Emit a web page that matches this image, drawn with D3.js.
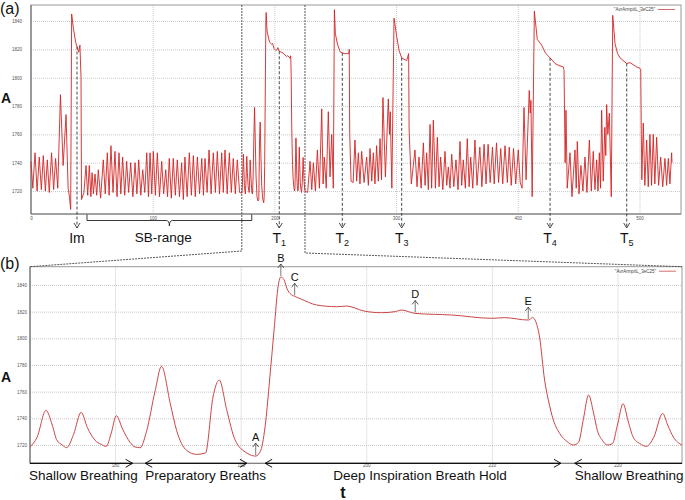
<!DOCTYPE html>
<html>
<head>
<meta charset="utf-8">
<script src="https://cdnjs.cloudflare.com/ajax/libs/d3/7.8.5/d3.min.js"></script>
<style>
body { margin: 0; background: #fff; }
svg { font-family: "Liberation Sans", Arial, sans-serif; }
.grid line { stroke: #c9c9c9; stroke-dasharray: 1,1; }
.grid path { display: none; }
.ticks text { font-size: 4.5px; fill: #555; }
.ticks path, .ticks line { display: none; }
</style>
</head>
<body>
<div id="chart"></div>
<script>
// panel (a) trace, [t, A]
var overviewLeft = [
  [0,1741],[1.5,1722],[3.3,1747],[5,1720],[6.8,1744],[8.5,1721],[10.1,1745],[11.8,1720],
  [13.4,1742],[15,1719],[16.9,1747],[18.6,1721],[20.2,1743],[22,1722],[24.2,1788],[26.4,1738],
  [28.8,1774],[30.5,1722],[31.6,1716],[32.6,1707],[33.4,1845],[34.8,1835],[36.7,1825],[37.8,1822],
  [39.2,1818],[40.2,1823],[41.1,1800],[41.5,1714],
  [43.5,1719],[45.2,1738],[46.6,1717],[47.9,1738],[49.2,1716],[50.2,1733],[51.3,1718],[52.6,1732],
  [54,1717],[55.3,1735],[57.2,1715],[59.4,1742],[61,1718],[62.7,1747],[64.2,1717],[65.7,1752],
  [67.4,1719],[69,1748],[70.7,1716],[72.3,1747],[73.8,1718],[75.3,1744],[77,1717],[78.6,1741],
  [80.2,1719],[81.9,1740],[83.7,1716],[85.5,1740],[87,1718],[88.5,1742],[90.2,1717],[91.8,1735],
  [93.5,1719],[95.1,1747],[96.5,1716],[97.8,1747],[99.2,1718],[100.5,1748],[102.2,1717],[103.8,1747],
  [105.6,1716],[107.4,1741],[109,1718],[110.7,1735],[112.2,1716],[113.6,1743],[115.3,1715],[116.9,1743],
  [118.6,1717],[120.2,1742],[122,1716],[123.8,1740],[125.2,1714],[126.5,1744],[128.3,1716],[130.1,1747],
  [131.8,1717],[133.4,1745],[135,1716],[136.7,1744],[138.5,1718],[140.3,1743],[141.7,1717],[143,1743],
  [144.7,1719],[146.3,1749],[148,1718],[149.8,1747],[151.5,1719],[153.1,1748],[154.9,1718],[156.7,1747],
  [158,1719],[159.4,1749],[161.2,1718],[163,1747],[164.6,1719],[166.2,1743],[167.9,1718],[169.5,1742],
  [171.4,1719]
];

// panel (b) trace, the zoomed stretch of the same recording
var detailCurve = [
  [173.23,1718.5],[173.8,1726],[174.5,1746],[175,1735],[175.35,1724],[175.8,1720],[176.15,1718],
  [176.7,1728],[177.3,1744.5],[177.8,1733],[178.4,1723.7],[178.9,1720.5],[179.3,1719],[179.7,1729],
  [180.1,1742],[180.6,1732],[181.2,1722],[181.6,1718.5],[182,1718],[182.5,1730],[183.2,1761],
  [183.7,1779],[184.4,1751],[184.9,1731],[185.7,1716],[186.5,1713],[187.2,1714],[187.8,1756],
  [188.3,1768.7],[188.9,1746],[189.55,1724],[190.5,1714],[191.2,1711.7],[191.6,1716],[192,1738],
  [192.3,1768],[192.66,1806],[193,1840],[193.2,1846],[193.45,1844],[193.7,1837],[194,1833],
  [194.3,1831.5],[194.8,1829.5],[196.05,1825],[197.65,1823.7],[198.45,1824.2],[199.8,1820.5],
  [201.2,1819.2],[202.3,1820],[202.8,1821.2],[203.9,1818.7],[206.8,1817.5],[210,1815],[211,1815.5],
  [212.9,1813.7],[213.25,1815.5],[213.5,1812.5],[213.8,1801],[214.2,1768.7],[214.5,1753.7],
  [214.9,1738.7],[215.4,1728.7],[216,1722.5],[216.5,1720],[216.9,1722],[217.3,1740],[217.7,1757.5],
  [218.1,1744],[218.4,1731],[218.8,1723.5],[219.2,1720],[219.6,1721],[220,1735],[220.45,1751],
  [220.85,1738],[221.25,1726],[221.8,1721],[222.3,1719],[222.9,1726],[223.6,1743.7],[224,1735],
  [224.45,1726],[225.14,1720]
];

var overviewRight = [
  [227.3,1719],[229.3,1741],[230.7,1721],[232,1740],[233.7,1720],[235.3,1749],[237,1722],[238.9,1778],
  [240,1725],[241,1744],[242.6,1722],[244.3,1776],[245.7,1730],[247.1,1760],[248.4,1722],[249.3,1848],
  [250.1,1831],[252,1823],[254.2,1818],[257.5,1817],[261.2,1817],[261.5,1820],[261.9,1760],[263,1727],
  [264.7,1726],[266.2,1756],[267.6,1727],[269,1747],[270.3,1725],[271.7,1748],[273.7,1726],[275.8,1744],
  [277.2,1724],[278.6,1750],[280,1727],[281.3,1747],[282.6,1725],[284,1752],[285.4,1727],[286.8,1757],
  [288,1728],[289.2,1786],[291.2,1730],[293.6,1785],[294.6,1760],[295.2,1776],[296.5,1722],[298.3,1842],
  [300.5,1829],[302.5,1819],[304.6,1814],[308.7,1812],[310.3,1817],[310.7,1763],[312.5,1725],[315.5,1749],
  [317.2,1723],[318.8,1744],[320.6,1722],[322.4,1754],[323.8,1724],[325.1,1747],[326.5,1721],[327.9,1767],
  [329.2,1722],[330.6,1770],[332.3,1722],[333.9,1758],[335.3,1723],[336.6,1744],[338.4,1721],[340.2,1748],
  [341.6,1724],[342.9,1737],[344.3,1722],[345.7,1746],[347.4,1723],[349.2,1742],[350.9,1721],[352.5,1755],
  [353.9,1724],[355.2,1742],[356.9,1722],[358.5,1757],[360,1723],[361.3,1744],[363,1722],[364.8,1756],
  [366.5,1724],[368.8,1751],[370.5,1723],[372.3,1753],[373.9,1725],[375.6,1753],[377.3,1726],[379.2,1751],
  [380.6,1725],[382.5,1754],[384.2,1726],[386,1750],[387.6,1725],[389.5,1752],[391.4,1726],[393,1751],
  [394.6,1724],[396.5,1750],[398.3,1725],[400.4,1749],[402,1726],[403.5,1722],[405.1,1779],[406.8,1728],
  [409.4,1791],[410.2,1775],[410.8,1784],[411.8,1716],[413.6,1847],[416,1827],[419.6,1823],[423,1817],
  [426.5,1814],[430.6,1810],[434,1808.5],[437.4,1807.6],[438,1805],[438.9,1740],[439.6,1777],[440.6,1722],
  [442.9,1747],[444.5,1716],[447,1749],[448,1722],[448.9,1755],[450.3,1718],[451.9,1738],[453.5,1720],
  [455.2,1744],[456.8,1719],[458.8,1756],[460.4,1720],[462,1748],[463.4,1721],[464.8,1742],[465.9,1720],
  [467,1747],[468,1722],[468.9,1777],[470.2,1727],[471.5,1765],[472.3,1745],[473,1781],[474,1760],
  [475.2,1775],[476.8,1716],[478,1844],[479.9,1824],[482,1817],[484,1814],[489.5,1810],[492.2,1810.6],
  [497.7,1807.6],[500.4,1806.6],[501,1806],[501.5,1760],[501.9,1728],[503.1,1768],[504.4,1724],[505.9,1756],
  [507.2,1723],[508.6,1760],[509.9,1724],[511.3,1760],[512.6,1725],[514.1,1758],[515.7,1724],[517.4,1744],
  [519.1,1723],[520.9,1743],[522.3,1724],[523.7,1743],[525,1725],[526.4,1747],[526.7,1740]
];

var yTicks = [1720, 1740, 1760, 1780, 1800, 1820, 1840];
var overviewXTicks = [0, 100, 200, 300, 400, 500];
var detailXTicks = [180, 190, 200, 210, 220];

var markerNames = ["Im", "T", "T", "T", "T", "T"];
var markerSubs = ["", "1", "2", "3", "4", "5"];
var markerT = [37.8, 204, 255.8, 304.6, 426.5, 489.5];
var sbRange = [46, 181.4];

var pointNames = ["A", "B", "C", "D", "E"];
var pointT = [191.2, 193.2, 194.3, 203.9, 212.9];

var phaseNames = ["Shallow Breathing", "Preparatory Breaths", "Deep Inspiration Breath Hold", "Shallow Breathing"];
var phaseStart = [173.23, 182.4, 191.95, 216.6];
var phaseEnd = [181.4, 190.5, 215.5, 225.14];

var legendName = '"AvrArmpitL_3eC25"';

var svg = d3.select("#chart").append("svg").attr("width", 685).attr("height", 500);

var xA = d3.scaleLinear().domain([0, 534.1]).range([31, 681]);
var yA = d3.scaleLinear().domain([1703.8, 1851.3]).range([214, 5]);
var xB = d3.scaleLinear().domain([173.23, 225.14]).range([30, 682]);
var yB = d3.scaleLinear().domain([1706.3, 1853.7]).range([463.3, 266.7]);

var fullTrace = overviewLeft.concat(detailCurve, overviewRight);

function valueAt(pts, t) {
  var i = d3.bisector(d => d[0]).left(pts, t);
  if (i <= 0) return pts[0][1];
  if (i >= pts.length) return pts[pts.length - 1][1];
  var a = pts[i - 1], b = pts[i];
  return a[1] + (b[1] - a[1]) * (t - a[0]) / (b[0] - a[0]);
}

function drawPanel(x, y, xTicks, yPad, xPad) {
  var g = svg.append("g");
  var x0 = x.range()[0], x1 = x.range()[1], y0 = y.range()[0], y1 = y.range()[1];

  g.append("g").attr("class", "grid")
    .attr("transform", `translate(${x0},0)`)
    .call(d3.axisLeft(y).tickValues(yTicks).tickSize(-(x1 - x0)).tickFormat(""));
  g.append("g").attr("class", "grid")
    .attr("transform", `translate(0,${y0})`)
    .call(d3.axisBottom(x).tickValues(xTicks.filter(d => x(d) > x0 + 2)).tickSize(-(y0 - y1)).tickFormat(""));

  g.append("g").attr("class", "ticks")
    .attr("transform", `translate(${x0},0)`)
    .call(d3.axisLeft(y).tickValues(yTicks).tickSize(0).tickPadding(yPad).tickFormat(d3.format("d")));
  g.append("g").attr("class", "ticks")
    .attr("transform", `translate(0,${y0})`)
    .call(d3.axisBottom(x).tickValues(xTicks).tickSize(0).tickPadding(xPad).tickFormat(d3.format("d")));

  g.append("rect")
    .attr("x", x0).attr("y", y1)
    .attr("width", x1 - x0).attr("height", y0 - y1)
    .attr("fill", "none").attr("stroke", "#9a9a9a").attr("stroke-width", 1);
  g.append("line").attr("x1", x0).attr("x2", x0).attr("y1", y1).attr("y2", y0)
    .attr("stroke", "#666");
  g.append("line").attr("x1", x0).attr("x2", x1).attr("y1", y0).attr("y2", y0)
    .attr("stroke", "#777");

  // legend
  g.append("text")
    .attr("x", x1 - 26).attr("y", y1 + 6)
    .attr("text-anchor", "end")
    .attr("font-size", "4.5px").attr("fill", "#444")
    .text(legendName);
  g.append("line")
    .attr("x1", x1 - 23).attr("x2", x1 - 6)
    .attr("y1", y1 + 4.5).attr("y2", y1 + 4.5)
    .attr("stroke", "#d96a6a").attr("stroke-width", 1);
  return g;
}

drawPanel(xA, yA, overviewXTicks, 9, 2.5);
drawPanel(xB, yB, detailXTicks, 3, 1);

// traces
svg.append("path")
  .datum(fullTrace)
  .attr("fill", "none")
  .attr("stroke", "#d42424")
  .attr("stroke-width", 0.9)
  .attr("stroke-linejoin", "round")
  .attr("d", d3.line().x(d => xA(d[0])).y(d => yA(d[1])));

svg.append("path")
  .datum(detailCurve)
  .attr("fill", "none")
  .attr("stroke", "#cc4646")
  .attr("stroke-width", 1)
  .attr("d", d3.line().curve(d3.curveMonotoneX).x(d => xB(d[0])).y(d => yB(d[1])));

// zoom connectors
var cL = xA(xB.domain()[0]), cR = xA(xB.domain()[1]);
svg.append("path")
  .attr("d", `M${cL},5 L${cL},251 L${xB.range()[0]},${yB.range()[1]}`)
  .attr("fill", "none").attr("stroke", "#444").attr("stroke-width", 0.9)
  .attr("stroke-dasharray", "2,1");
svg.append("path")
  .attr("d", `M${cR},5 L${cR},253 L${xB.range()[1]},${yB.range()[1]}`)
  .attr("fill", "none").attr("stroke", "#444").attr("stroke-width", 0.9)
  .attr("stroke-dasharray", "2,1");

// markers under panel (a)
markerT.forEach(function(t, i) {
  var px = xA(t), top = yA(valueAt(fullTrace, t)), bottom = 228;
  svg.append("line")
    .attr("x1", px).attr("x2", px).attr("y1", top).attr("y2", bottom)
    .attr("stroke", "#333").attr("stroke-width", 0.9).attr("stroke-dasharray", "3,2");
  svg.append("path")
    .attr("d", `M${px - 3},${bottom - 5} L${px},${bottom} L${px + 3},${bottom - 5}`)
    .attr("fill", "none").attr("stroke", "#333").attr("stroke-width", 0.9);
  var lab = svg.append("text")
    .attr("x", px).attr("y", 243)
    .attr("text-anchor", "middle")
    .attr("font-size", "14px").attr("fill", "#111")
    .text(markerNames[i]);
  if (markerSubs[i]) {
    lab.append("tspan").attr("font-size", "9px").attr("dy", 3).text(markerSubs[i]);
  }
});

// SB-range bracket
var b0 = xA(sbRange[0]), b1 = xA(sbRange[1]), bm = (b0 + b1) / 2;
svg.append("path")
  .attr("d", `M${b0},214.5 L${b0},220.5 L${bm - 3},220.5 Q${bm},220.5 ${bm},226 Q${bm},220.5 ${bm + 3},220.5 L${b1},220.5 L${b1},214.5`)
  .attr("fill", "none").attr("stroke", "#222").attr("stroke-width", 0.9);
svg.append("text")
  .attr("x", bm - 6).attr("y", 241.5)
  .attr("text-anchor", "middle")
  .attr("font-size", "13.5px").attr("fill", "#111")
  .text("SB-range");

// point labels in panel (b)
pointT.forEach(function(t, i) {
  var px = xB(t), py = yB(valueAt(detailCurve, t)) - 1;
  svg.append("line")
    .attr("x1", px).attr("x2", px).attr("y1", py).attr("y2", py - 12)
    .attr("stroke", "#555").attr("stroke-width", 0.8);
  svg.append("path")
    .attr("d", `M${px - 3},${py - 8} L${px},${py - 12} L${px + 3},${py - 8}`)
    .attr("fill", "none").attr("stroke", "#333").attr("stroke-width", 0.8);
  svg.append("text")
    .attr("x", px).attr("y", py - 14)
    .attr("text-anchor", "middle")
    .attr("font-size", "11px").attr("fill", "#111")
    .text(pointNames[i]);
});

// breathing phases along the bottom of panel (b)
var phaseY = yB.range()[0];
phaseNames.forEach(function(name, i) {
  var s = xB(phaseStart[i]), e = xB(phaseEnd[i]);
  svg.append("line")
    .attr("x1", s).attr("x2", e).attr("y1", phaseY).attr("y2", phaseY)
    .attr("stroke", "#111").attr("stroke-width", 1.2);
  if (i > 0) {
    svg.append("path")
      .attr("d", `M${s + 7},${phaseY - 4} L${s},${phaseY} L${s + 7},${phaseY + 4}`)
      .attr("fill", "none").attr("stroke", "#111").attr("stroke-width", 1);
  }
  if (i < phaseNames.length - 1) {
    svg.append("path")
      .attr("d", `M${e - 7},${phaseY - 4} L${e},${phaseY} L${e - 7},${phaseY + 4}`)
      .attr("fill", "none").attr("stroke", "#111").attr("stroke-width", 1);
  }
  var tx = i === 0 ? 29 : (i === 2 ? (s + e) / 2 + 7 : s);
  svg.append("text")
    .attr("x", tx).attr("y", 480)
    .attr("text-anchor", i === 2 ? "middle" : "start")
    .attr("font-size", "13.5px").attr("fill", "#111")
    .text(name);
});

// panel tags and axis names
svg.append("text").attr("x", 0).attr("y", 14).attr("font-size", "16px").attr("fill", "#111").text("(a)");
svg.append("text").attr("x", 0).attr("y", 269).attr("font-size", "16px").attr("fill", "#111").text("(b)");
svg.append("text").attr("x", 1).attr("y", 103).attr("font-size", "14px").attr("font-weight", "bold").attr("fill", "#111").text("A");
svg.append("text").attr("x", 1).attr("y", 382).attr("font-size", "14px").attr("font-weight", "bold").attr("fill", "#111").text("A");
svg.append("text").attr("x", 343).attr("y", 498).attr("text-anchor", "middle").attr("font-size", "16px").attr("font-weight", "bold").attr("fill", "#111").text("t");
</script>
</body>
</html>
